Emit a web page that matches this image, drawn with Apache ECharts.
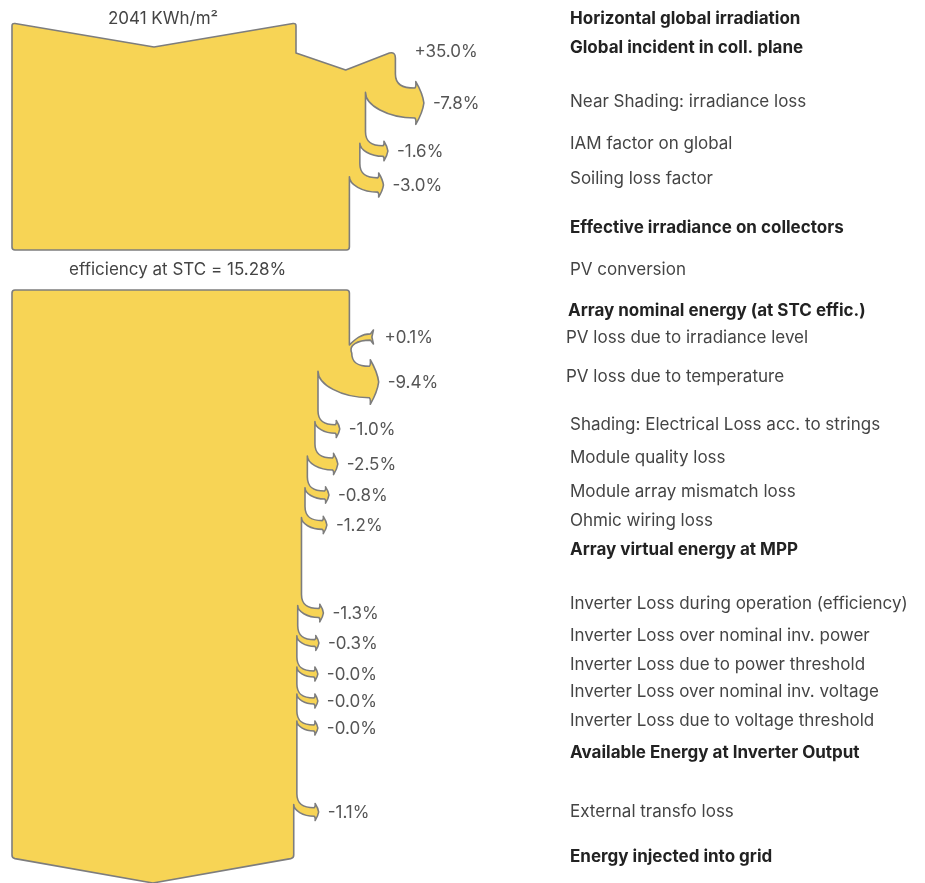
<!DOCTYPE html>
<html><head><meta charset="utf-8">
<script src="https://cdn.jsdelivr.net/npm/echarts@6/dist/echarts.min.js"></script>
<style>html,body{margin:0;padding:0;background:#fff}#chart{width:925px;height:883px}</style>
</head><body><div id="chart"></div>
<script>
// ---------------- DATA ----------------
const startLabel = '2041 KWh/m\u00B2';
const conversionLabel = 'efficiency at STC = 15.28%';
const stepNames = [
  'Horizontal global irradiation',
  'Global incident in coll. plane',
  'Near Shading: irradiance loss',
  'IAM factor on global',
  'Soiling loss factor',
  'Effective irradiance on collectors',
  'PV conversion',
  'Array nominal energy (at STC effic.)',
  'PV loss due to irradiance level',
  'PV loss due to temperature',
  'Shading: Electrical Loss acc. to strings',
  'Module quality loss',
  'Module array mismatch loss',
  'Ohmic wiring loss',
  'Array virtual energy at MPP',
  'Inverter Loss during operation (efficiency)',
  'Inverter Loss over nominal inv. power',
  'Inverter Loss due to power threshold',
  'Inverter Loss over nominal inv. voltage',
  'Inverter Loss due to voltage threshold',
  'Available Energy at Inverter Output',
  'External transfo loss',
  'Energy injected into grid'
];
// percentage change per step (null = summary row)
const stepValues = [null, 35.0, -7.8, -1.6, -3.0, null, null, null, 0.1, -9.4, -1.0, -2.5, -0.8, -1.2, null, -1.3, -0.3, -0.0, -0.0, -0.0, null, -1.1, null];
const boldSteps = [0, 1, 5, 7, 14, 20, 22];
const block1Rows = [0, 1, 2, 3, 4, 5, 6];
const block2Rows = [7, 8, 9, 10, 11, 12, 13, 14, 15, 16, 17, 18, 19, 20, 21, 22];

// ---------------- LAYOUT (vertical schematic positions, px) ----------------
const rowTextY  = [19, 48, 102, 144, 179, 228, 270, 311, 338, 377, 425, 458, 492, 521, 550, 604, 636, 665, 692, 721, 753, 812, 857];
const rowArrowY = [null, 53, 103, 151, 185, null, null, null, 337, 382, 429, 464, 495, 525, null, 613, 643, 674, 701, 728, null, 812, null];
const rowIndent = {7: -2, 8: -4, 9: -4};
const block1Top = 23, block1Notch = 24, block1Bottom = 250;
const block2Top = 290, block2Bottom = 858, block2Tip = 25;
const labelColX = 570;

const FILL = '#F7D455', STROKE = '#7d7d7d';
const FONT = 'Inter, Roboto, sans-serif';
const FS = '17px ';

// cumulative flow width (relative units, start = 100)
const flowW = [];
(function () {
  let w = 100;
  for (let i = 0; i < stepValues.length; i++) {
    const v = stepValues[i];
    if (v !== null) w = w * (1 + v / 100);
    flowW.push(w);
  }
})();

function fmtPct(v) {
  return (v > 0 ? '+' : '-') + Math.abs(v).toFixed(1) + '%';
}
const f = n => n.toFixed(2);

function renderItem(params, api) {
  const X = v => api.coord([v, 0])[0];
  const Y = v => api.coord([0, v])[1];
  const b = params.dataIndex;
  const rows = b === 0 ? block1Rows : block2Rows;
  const children = [];
  const L = X(0);
  let d = '';
  let cur;
  const startW = b === 0 ? 100 : flowW[block2Rows[0]];
  const R0 = X(startW);
  if (b === 0) {
    const T = Y(block1Top), mid = (L + R0) / 2;
    d += `M${f(L)},${f(T + 3)} Q${f(L)},${f(T)} ${f(L + 3)},${f(T + 0.5)} L${f(mid)},${f(T + block1Notch)} L${f(R0 - 3)},${f(T + 0.5)} Q${f(R0)},${f(T)} ${f(R0)},${f(T + 3)}`;
    cur = [R0, T + 3];
    children.push({type: 'text', x: mid + 9, y: T - 4, style: {text: startLabel, font: FS + FONT, fill: '#444', align: 'center', verticalAlign: 'middle'}});
  } else {
    const T = Y(block2Top);
    d += `M${f(L)},${f(T + 3)} Q${f(L)},${f(T)} ${f(L + 3)},${f(T)} L${f(R0 - 3)},${f(T)} Q${f(R0)},${f(T)} ${f(R0)},${f(T + 3)}`;
    cur = [R0, T + 3];
  }

  rows.forEach(i => {
    const v = stepValues[i];
    if (v === null || rowArrowY[i] === null) return;
    const R = X(flowW[i - 1]);
    const Rn = X(flowW[i]);
    const yT = Y(rowArrowY[i]);
    if (v > 0 && Rn - R > 20) {
      // broad incoming wedge
      const gm = (R + Rn) / 2;
      if (cur[1] < yT) d += ` L${f(R)},${f(yT)}`;
      d += ` L${f(gm)},${f(yT + 17)} L${f(Rn - 6)},${f(yT)} Q${f(Rn)},${f(yT - 1.5)} ${f(Rn)},${f(yT + 5)}`;
      cur = [Rn, yT + 5];
      children.push({type: 'text', x: Rn + 19, y: yT - 1, style: {text: fmtPct(v), font: FS + FONT, fill: '#555', align: 'left', verticalAlign: 'middle'}});
    } else if (v > 0) {
      // small incoming tail arrow
      const w = Rn - R;
      const bh = 3 + 0.4 * w;
      const tx = R + 24;
      if (cur[1] < yT + 8) d += ` L${f(R)},${f(yT + 8)}`;
      d += ` C${f(R + 6)},${f(yT + 2)} ${f(R + 12)},${f(yT - bh)} ${f(tx - 3)},${f(yT - bh)}`;
      d += ` L${f(tx)},${f(yT - 7)} L${f(tx - 1.5)},${f(yT)} L${f(tx)},${f(yT + 7)} L${f(tx - 3)},${f(yT + bh)}`;
      d += ` C${f(R + 8)},${f(yT + bh)} ${f(R - 1)},${f(yT + bh + 5)} ${f(Rn + 2)},${f(yT + 16)}`;
      cur = [Rn + 2, yT + 16];
      children.push({type: 'text', x: tx + 11, y: yT + 1, style: {text: fmtPct(v), font: FS + FONT, fill: '#555', align: 'left', verticalAlign: 'middle'}});
    } else {
      // loss arrow leaving to the right
      const w = R - Rn;
      const bh = 3 + 0.4 * w;
      const hh = 7 + 0.48 * w;
      const hl = 4 + 0.17 * w;
      const tipX = R + 21 + 0.25 * w;
      const hx = tipX - hl;
      const y0 = yT - bh - 14;
      if (cur[1] < y0) { d += ` L${f(R)},${f(y0)}`; cur = [R, y0]; }
      const ya = yT - bh;
      d += ` C${f(cur[0])},${f(cur[1] + (ya - cur[1]) * 0.75)} ${f(cur[0] + (hx - cur[0]) * 0.35)},${f(ya)} ${f(hx)},${f(ya)}`;
      d += ` Q${f(hx + 1.5)},${f(ya - 1)} ${f(hx + 1)},${f(yT - hh)}`;
      d += ` Q${f(hx + 1 + (tipX - hx - 1) * 0.85)},${f(yT - hh * 0.45)} ${f(tipX)},${f(yT)}`;
      d += ` Q${f(hx + 1 + (tipX - hx - 1) * 0.85)},${f(yT + hh * 0.45)} ${f(hx + 1)},${f(yT + hh)}`;
      d += ` Q${f(hx + 1.5)},${f(yT + bh + 1)} ${f(hx)},${f(yT + bh)}`;
      const xi = Rn, y1 = yT - 7 - 0.12 * w;
      d += ` C${f(xi + (hx - xi) * 0.45)},${f(yT + bh)} ${f(xi)},${f(y1 + (yT + bh - y1) * 0.5)} ${f(xi)},${f(y1)}`;
      cur = [xi, y1];
      children.push({type: 'text', x: tipX + 9, y: yT + 1, style: {text: fmtPct(v), font: FS + FONT, fill: '#555', align: 'left', verticalAlign: 'middle'}});
    }
  });

  const endW = b === 0 ? flowW[block1Rows[block1Rows.length - 1]] : flowW[block2Rows[block2Rows.length - 1]];
  const Rf = X(endW);
  if (b === 0) {
    const B = Y(block1Bottom);
    d += ` L${f(Rf)},${f(B - 3)} Q${f(Rf)},${f(B)} ${f(Rf - 3)},${f(B)} L${f(L + 3)},${f(B)} Q${f(L)},${f(B)} ${f(L)},${f(B - 3)} Z`;
    children.push({type: 'text', x: (L + Rf) / 2 - 3, y: Y(rowTextY[6]), style: {text: conversionLabel, font: FS + FONT, fill: '#444', align: 'center', verticalAlign: 'middle'}});
  } else {
    const B = Y(block2Bottom), mid = (L + Rf) / 2;
    d += ` L${f(Rf)},${f(B - 3)} Q${f(Rf)},${f(B)} ${f(Rf - 3)},${f(B + 0.6)} L${f(mid)},${f(B + block2Tip)} L${f(L + 3)},${f(B + 0.6)} Q${f(L)},${f(B)} ${f(L)},${f(B - 3)} Z`;
  }
  children.unshift({type: 'path', shape: {pathData: d}, style: {fill: FILL, stroke: STROKE, lineWidth: 1.6, lineJoin: 'round'}});

  rows.forEach(i => {
    const bold = boldSteps.indexOf(i) >= 0;
    children.push({type: 'text', x: labelColX + (rowIndent[i] || 0), y: Y(rowTextY[i]), style: {
      text: stepNames[i], font: (bold ? 'bold ' : '') + FS + FONT, fill: bold ? '#222' : '#444', align: 'left', verticalAlign: 'middle'}});
  });
  return {type: 'group', children};
}

const chart = echarts.init(document.getElementById('chart'), null, {renderer: 'canvas'});
chart.setOption({
  animation: false,
  backgroundColor: '#fff',
  grid: {left: 12, right: 61, top: 0, bottom: 0, outerBoundsMode: 'none'},
  xAxis: {type: 'value', min: 0, max: 300, show: false},
  yAxis: {type: 'value', min: 0, max: 883, inverse: true, show: false},
  series: [{
    type: 'custom',
    coordinateSystem: 'cartesian2d',
    silent: true,
    clip: false,
    renderItem: renderItem,
    data: [[0, 0], [1, 0]]
  }]
});
</script>
</body></html>
